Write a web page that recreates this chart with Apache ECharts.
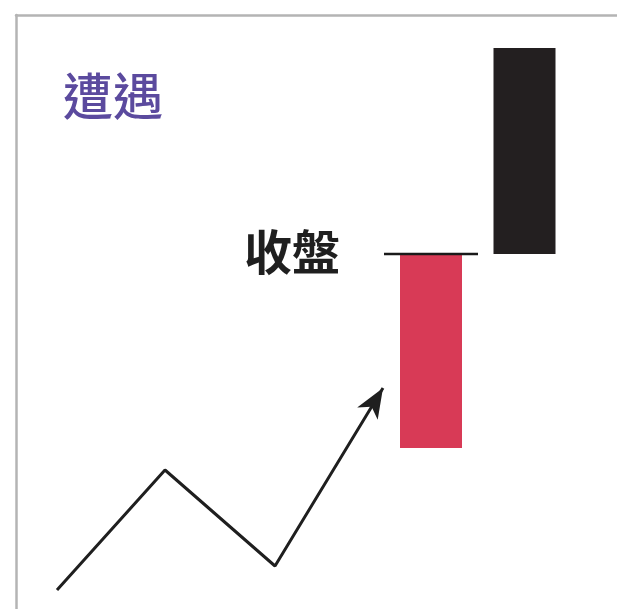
<!DOCTYPE html>
<html>
<head>
<meta charset="utf-8">
<script src="https://cdn.jsdelivr.net/npm/echarts@6/dist/echarts.min.js"></script>
<style>
  html, body { margin: 0; padding: 0; background: #fff; }
  #chart { width: 617px; height: 609px; }
</style>
</head>
<body>
<div id="chart"></div>
<script>
// 走勢線（時間, 價格）
var trendX = [8.2, 29.8, 51.8, 73.4];
var trendY = [3.8, 27.8, 8.6, 44.2];

// 兩根K線：紅K（上漲）、黑K（下跌）
var candleX = [83, 101.7];
var candleOpen = [32.2, 112.2];
var candleClose = [71, 71];
var candleWidth = 12.4;

// 收盤價水平線
var closeLevel = 71;
var closeLineRange = [73.6, 92.4];
var closeLabelX = 64.8;

var titleText = '遭遇';
var closeText = '收盤';

var chart = echarts.init(document.getElementById('chart'));

var trendData = [];
for (var i = 0; i < trendX.length; i++) {
    trendData.push([trendX[i], trendY[i]]);
}
var candleData = [];
for (var j = 0; j < candleX.length; j++) {
    candleData.push([candleX[j], candleOpen[j], candleClose[j]]);
}

var frameLine = { show: true, onZero: false, lineStyle: { color: '#b4b4b4', width: 2.5 } };

var option = {
    animation: false,
    title: {
        text: titleText,
        left: 58,
        top: 66,
        textStyle: {
            fontFamily: 'Noto Sans CJK TC',
            fontSize: 50,
            fontWeight: 500,
            color: '#5b4a9e'
        }
    },
    grid: { left: 16, top: 15, right: 0, bottom: 0 },
    xAxis: {
        type: 'value', min: 0, max: 120.2, position: 'top',
        axisLine: frameLine, axisTick: { show: false },
        axisLabel: { show: false }, splitLine: { show: false }
    },
    yAxis: {
        type: 'value', min: 0, max: 118.8, position: 'left',
        axisLine: frameLine, axisTick: { show: false },
        axisLabel: { show: false }, splitLine: { show: false }
    },
    series: [
        {
            // 走勢折線
            type: 'line',
            data: trendData,
            symbol: 'none',
            lineStyle: { color: '#1f1f1f', width: 3 },
            z: 2
        },
        {
            // 箭頭
            type: 'custom',
            data: [0],
            z: 3,
            renderItem: function (params, api) {
                var n = trendData.length;
                var tip = api.coord(trendData[n - 1]);
                var prev = api.coord(trendData[n - 2]);
                var dx = tip[0] - prev[0], dy = tip[1] - prev[1];
                var len = Math.sqrt(dx * dx + dy * dy);
                var ux = dx / len, uy = dy / len;
                var L = 30, W = 12, back = 22;
                var bx = tip[0] - ux * L, by = tip[1] - uy * L;
                var nx = tip[0] - ux * back, ny = tip[1] - uy * back;
                return {
                    type: 'polygon',
                    shape: {
                        points: [
                            tip,
                            [bx - uy * W, by + ux * W],
                            [nx, ny],
                            [bx + uy * W, by - ux * W]
                        ]
                    },
                    style: { fill: '#1f1f1f' }
                };
            }
        },
        {
            // K線實體
            type: 'custom',
            data: candleData,
            z: 2,
            renderItem: function (params, api) {
                var x = api.value(0);
                var open = api.value(1);
                var close = api.value(2);
                var p1 = api.coord([x, open]);
                var p2 = api.coord([x, close]);
                var w = api.size([candleWidth, 0])[0];
                var up = close > open;
                var top = Math.min(p1[1], p2[1]);
                return {
                    type: 'rect',
                    shape: { x: p1[0] - w / 2, y: top, width: w, height: Math.abs(p1[1] - p2[1]) },
                    style: { fill: up ? '#d83a56' : '#231f20' }
                };
            }
        },
        {
            // 收盤線與文字
            type: 'custom',
            data: [[closeLineRange[0], closeLineRange[1], closeLevel]],
            z: 4,
            renderItem: function (params, api) {
                var a = api.coord([api.value(0), api.value(2)]);
                var b = api.coord([api.value(1), api.value(2)]);
                var t = api.coord([closeLabelX, api.value(2)]);
                return {
                    type: 'group',
                    children: [
                        {
                            type: 'line',
                            shape: { x1: a[0], y1: a[1], x2: b[0], y2: b[1] },
                            style: { stroke: '#1a1a1a', lineWidth: 2.5 }
                        },
                        {
                            type: 'text',
                            x: t[0],
                            y: t[1] - 2,
                            style: {
                                text: closeText,
                                align: 'right',
                                verticalAlign: 'middle',
                                fontFamily: 'Noto Sans CJK TC',
                                fontSize: 48,
                                fontWeight: 'bold',
                                fill: '#1f1f1f'
                            }
                        }
                    ]
                };
            }
        }
    ]
};

chart.setOption(option);
</script>
</body>
</html>
